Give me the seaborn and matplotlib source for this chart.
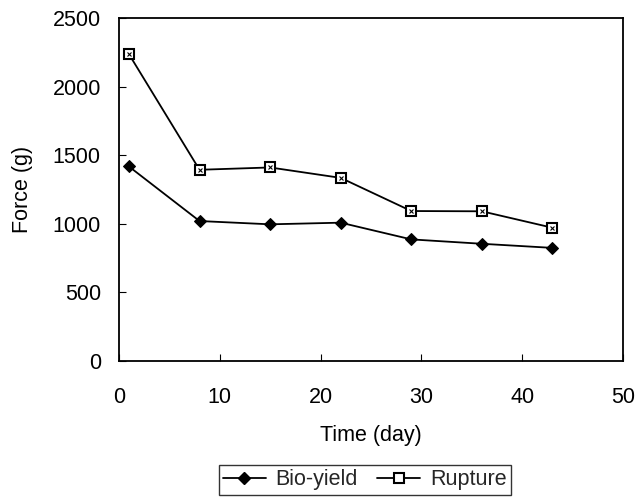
import matplotlib
matplotlib.use("Agg")
import matplotlib.pyplot as plt
from matplotlib.lines import Line2D
import seaborn as sns
import pandas as pd

# Measurement days and force readings (g)
days = [1, 8, 15, 22, 29, 36, 43]
bio_yield = [1417, 1019, 995, 1007, 885, 853, 823]
rupture = [2237, 1393, 1410, 1334, 1092, 1090, 970]
series_names = ["Bio-yield", "Rupture"]

df = pd.DataFrame({
    "day": days * 2,
    "force": bio_yield + rupture,
    "series": [series_names[0]] * len(days) + [series_names[1]] * len(days),
})

sns.set_theme(style="white")
plt.rcParams["font.family"] = ["Liberation Sans", "DejaVu Sans"]
FS = 15.5

fig = plt.figure(figsize=(6.39, 5.03), dpi=100)
ax = fig.add_axes([0.186, 0.283, 0.789, 0.681])

sns.lineplot(data=df, x="day", y="force", hue="series", style="series",
             palette=["black", "black"], markers={"Bio-yield": "D", "Rupture": "s"},
             dashes=False, linewidth=1.3, markersize=7, ax=ax, legend=False)

# Style markers: filled diamond, open square with a cross inside
lines = ax.get_lines()
lines[0].set_markerfacecolor("black")
lines[0].set_markeredgecolor("black")
lines[0].set_markersize(6.5)
lines[1].set_markerfacecolor("white")
lines[1].set_markeredgecolor("black")
lines[1].set_markeredgewidth(1.5)
ax.plot(days, rupture, linestyle="none", marker="x", markersize=3.5,
        color="black", markeredgewidth=0.8)

ax.set_xlim(0, 50)
ax.set_ylim(0, 2500)
ax.set_xticks([0, 10, 20, 30, 40, 50])
ax.set_yticks([0, 500, 1000, 1500, 2000, 2500])
ax.tick_params(axis="both", direction="in", length=5, width=0.8, colors="black",
               labelsize=FS, left=True, bottom=True)
ax.tick_params(axis="x", pad=19)
ax.tick_params(axis="y", pad=13)
for sp in ax.spines.values():
    sp.set_visible(True)
    sp.set_color("black")
    sp.set_linewidth(1.3)

ax.set_xlabel("Time (day)", fontsize=FS, color="black", labelpad=12)
ax.set_ylabel("Force (g)", fontsize=FS, color="black", labelpad=14)

handles = [
    Line2D([], [], color="black", marker="D", markersize=6, linewidth=1.3,
           markerfacecolor="black"),
    Line2D([], [], color="black", marker="s", markersize=7, linewidth=1.3,
           markerfacecolor="white", markeredgewidth=1.5),
]
leg = fig.legend(handles, series_names, loc="center", bbox_to_anchor=(0.571, 0.046),
                 ncol=2, frameon=True, fancybox=False, fontsize=FS,
                 handlelength=2.0, handletextpad=0.45, columnspacing=0.9,
                 borderpad=0.2, borderaxespad=0.2, edgecolor="black")
leg.get_frame().set_linewidth(1.0)

fig.savefig("out.png", dpi=100, facecolor="white")
